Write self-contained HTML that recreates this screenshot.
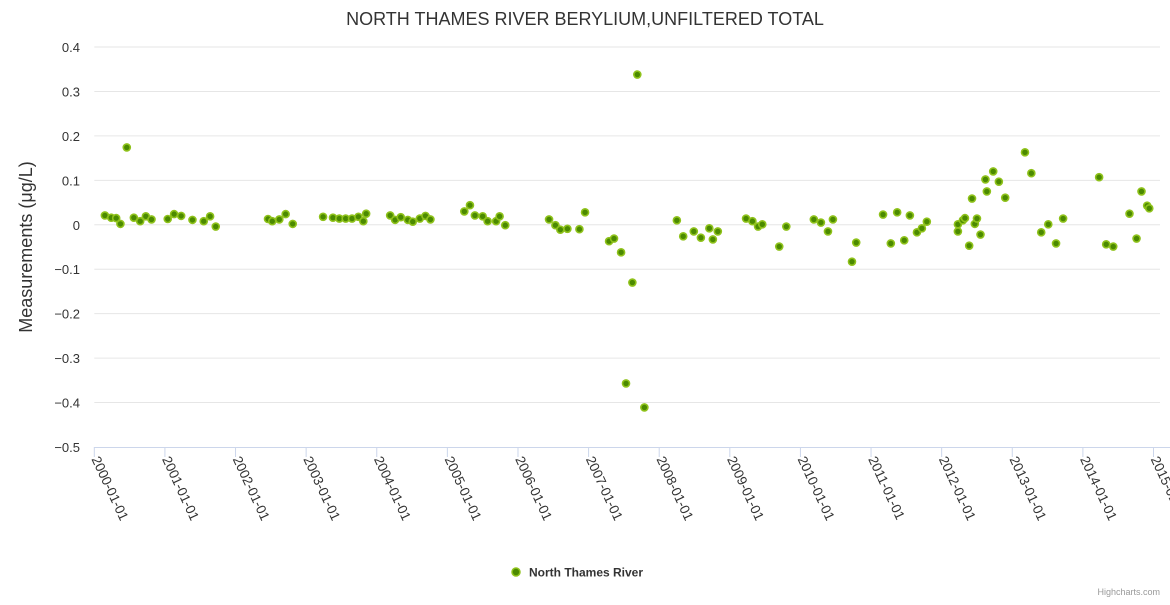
<!DOCTYPE html>
<html><head><meta charset="utf-8"><style>
body{margin:0;background:#fff;font-family:"Liberation Sans",sans-serif}
svg text{font-family:"Liberation Sans",sans-serif}
</style></head><body>
<svg id="chart" width="1170" height="600" xmlns="http://www.w3.org/2000/svg">
<rect width="1170" height="600" fill="#fff"/>
<text x="585" y="25" text-anchor="middle" font-size="18" fill="#333">NORTH THAMES RIVER BERYLIUM,UNFILTERED TOTAL</text>
<text transform="translate(32,247) rotate(-90)" text-anchor="middle" font-size="18" fill="#333">Measurements (μg/L)</text>
<g id="grid"></g>
<g id="xaxis"></g>
<g id="points"></g>
<g>
<circle cx="516" cy="572" r="4" fill="#4b8a00" stroke="#8fc21b" stroke-width="1.5"/>
<text x="529" y="576.5" font-size="12" font-weight="bold" fill="#333">North Thames River</text>
</g>
<text x="1160" y="595" text-anchor="end" font-size="9" fill="#999">Highcharts.com</text>
</svg>
<script>
const yTicks=[0.4,0.3,0.2,0.1,0,-0.1,-0.2,-0.3,-0.4,-0.5];
const yTickLabels=["0.4","0.3","0.2","0.1","0","−0.1","−0.2","−0.3","−0.4","−0.5"];
const xTickYears=[2000,2001,2002,2003,2004,2005,2006,2007,2008,2009,2010,2011,2012,2013,2014,2015];
const xTickLabels=xTickYears.map(y=>y+"-01-01");
const dates=[0.15,0.24,0.31,0.37,0.46,0.56,0.65,0.73,0.81,1.04,1.13,1.23,1.39,1.55,1.64,1.72,2.46,2.52,2.62,2.71,2.81,3.24,3.38,3.47,3.56,3.65,3.74,3.81,3.85,4.19,4.26,4.34,4.44,4.51,4.61,4.69,4.76,5.24,5.32,5.39,5.50,5.57,5.69,5.74,5.82,6.44,6.53,6.60,6.70,6.87,6.95,7.29,7.36,7.46,7.53,7.62,7.69,7.79,8.25,8.34,8.49,8.59,8.71,8.76,8.83,9.23,9.32,9.40,9.46,9.70,9.80,10.19,10.29,10.39,10.46,10.73,10.79,11.17,11.28,11.37,11.47,11.55,11.65,11.72,11.79,12.23,12.23,12.30,12.33,12.39,12.43,12.47,12.50,12.55,12.62,12.64,12.73,12.81,12.90,13.18,13.27,13.41,13.51,13.62,13.72,14.23,14.33,14.43,14.66,14.76,14.83,14.91,14.94];
const values=[0.021,0.016,0.015,0.002,0.174,0.016,0.008,0.019,0.012,0.013,0.024,0.020,0.011,0.008,0.019,-0.004,0.013,0.008,0.012,0.024,0.002,0.018,0.016,0.014,0.014,0.014,0.018,0.008,0.025,0.021,0.011,0.017,0.011,0.007,0.014,0.020,0.012,0.030,0.044,0.021,0.019,0.008,0.008,0.019,-0.001,0.012,-0.001,-0.011,-0.009,-0.010,0.028,-0.037,-0.031,-0.062,-0.357,-0.130,0.338,-0.411,0.010,-0.026,-0.015,-0.029,-0.008,-0.033,-0.015,0.014,0.008,-0.004,0.001,-0.049,-0.004,0.012,0.005,-0.015,0.012,-0.083,-0.040,0.023,-0.042,0.028,-0.035,0.021,-0.017,-0.008,0.007,-0.015,0.001,0.010,0.015,-0.047,0.059,0.002,0.014,-0.022,0.102,0.075,0.120,0.097,0.061,0.163,0.116,-0.017,0.001,-0.042,0.014,0.107,-0.044,-0.049,0.025,-0.031,0.075,0.043,0.037];
const X0=94.3,X1=1153.5,Y0=47,Y1=447;
function xs(t){return X0+t/15*(X1-X0);}
function xYear(y){return xs(y-2000);}
function ys(v){return Y0+(0.4-v)/0.9*(Y1-Y0);}
const NS="http://www.w3.org/2000/svg";
function mk(tag,attrs,parent){const e=document.createElementNS(NS,tag);for(const k in attrs)e.setAttribute(k,attrs[k]);parent.appendChild(e);return e;}
const grid=document.getElementById('grid');
yTicks.forEach((v,i)=>{
  if(v>-0.5){const l=mk('line',{x1:X0,x2:1160,y1:ys(v),y2:ys(v),stroke:'#e6e6e6','stroke-width':1},grid);
  
  }
  const t=mk('text',{x:80,y:ys(v)+5,'text-anchor':'end','font-size':13,fill:'#333'},grid);
  
  
  t.textContent=yTickLabels[i];
});
const xa=document.getElementById('xaxis');
const al=mk('line',{x1:X0,x2:1170,y1:Y1+0.5,y2:Y1+0.5,stroke:'#ccd6eb','stroke-width':1},xa);


xTickYears.forEach((y,i)=>{
  const x=xYear(y);
  const tk=mk('line',{x1:x,x2:x,y1:Y1,y2:Y1+10,stroke:'#ccd6eb'},xa);
  
  
  const t=mk('text',{transform:`translate(${x-3},${Y1+12}) rotate(65)`,'font-size':13.5,fill:'#333'},xa);
  
  
  t.textContent=xTickLabels[i];
});
const pts=document.getElementById('points');
dates.forEach((d,i)=>{
  const c=mk('circle',{cx:xs(d),cy:ys(values[i]),r:3.5,fill:'#4b8a00',stroke:'#8fc21b','stroke-width':1.6},pts);
  
  
});
</script>
</body></html>
